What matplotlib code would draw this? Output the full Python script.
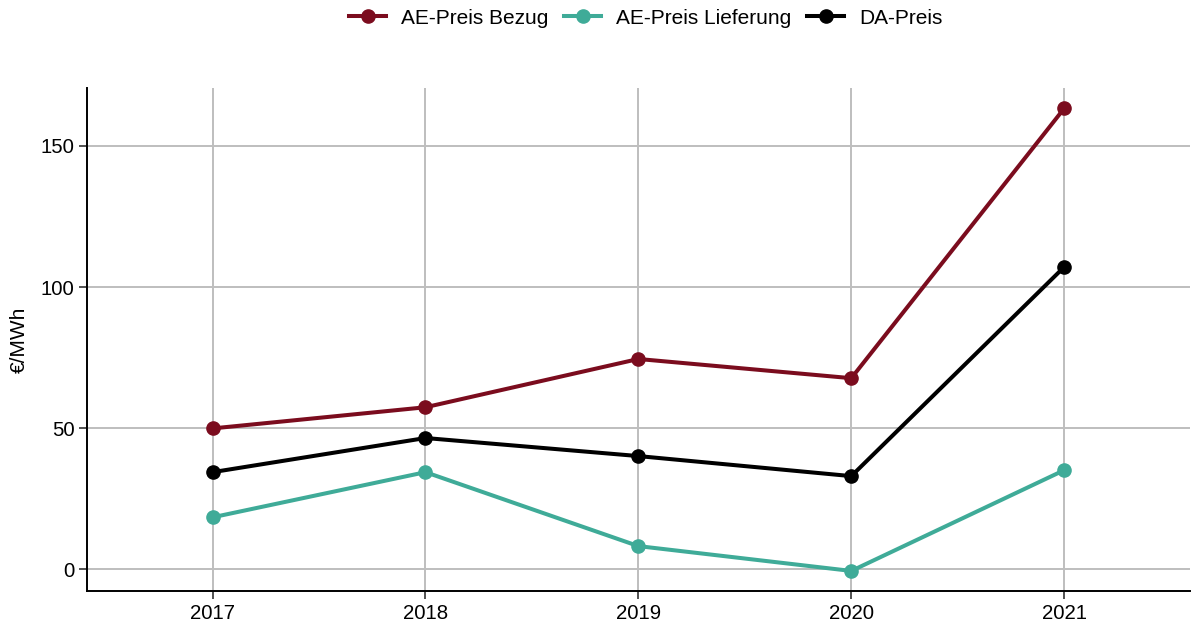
import matplotlib.pyplot as plt

plt.rcParams['font.family'] = ['Liberation Sans', 'DejaVu Sans']

years = [2017, 2018, 2019, 2020, 2021]
ae_bezug = [49.9, 57.4, 74.5, 67.7, 163.3]
ae_lieferung = [18.4, 34.4, 8.2, -0.6, 35.1]
da_preis = [34.4, 46.5, 40.1, 33.0, 107.1]

fig = plt.figure(figsize=(11.91, 6.27), dpi=100)
ax = fig.add_axes([0.073, 0.057, 0.926, 0.803])

series = [
    ("AE-Preis Bezug", ae_bezug, "#7b0c1e"),
    ("AE-Preis Lieferung", ae_lieferung, "#3fab98"),
    ("DA-Preis", da_preis, "#000000"),
]
for name, vals, col in series:
    ax.plot(years, vals, color=col, lw=2.9, marker='o', ms=9.5, label=name, zorder=3)

ax.set_xlim(2016.41, 2021.59)
ax.set_ylim(-7.8, 170.6)
ax.set_xticks(years)
ax.set_yticks([0, 50, 100, 150])
ax.grid(True, color='#bebebe', lw=1.4)
ax.set_axisbelow(True)
for s in ['top', 'right']:
    ax.spines[s].set_visible(False)
for s in ['left', 'bottom']:
    ax.spines[s].set_linewidth(1.4)
ax.tick_params(labelsize=14.7, length=5.5, width=1.2, color='#333333', labelcolor='black', pad=3.5)
ax.set_ylabel('€/MWh', fontsize=15)
ax.yaxis.set_label_coords(-0.053, 0.5)

fig.legend(loc='center', bbox_to_anchor=(0.542, 0.971), ncol=3, frameon=False,
           fontsize=15, handlelength=1.8, columnspacing=0.75, handletextpad=0.7)

plt.savefig('out.png', dpi=100)
